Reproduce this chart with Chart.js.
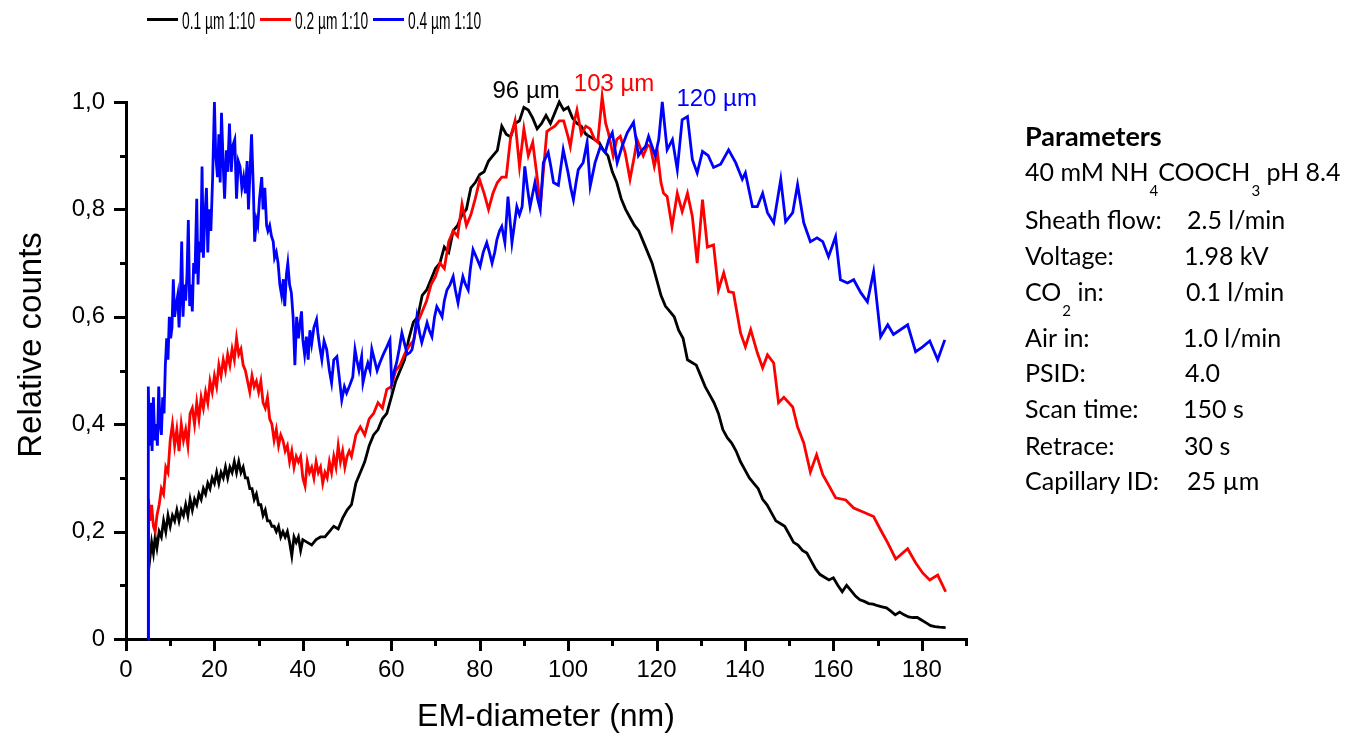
<!DOCTYPE html>
<html><head><meta charset="utf-8">
<script src="https://cdn.jsdelivr.net/npm/chart.js@4.4.1/dist/chart.umd.min.js"></script>
<style>html,body{margin:0;padding:0;background:#fff;overflow:hidden}#wrap{position:relative;width:1346px;height:733px}</style>
</head><body><div id="wrap"><canvas id="c" width="1346" height="733"></canvas></div>
<script>
// ---------- data ----------
const seriesNames = ['0.1 µm 1:10', '0.2 µm 1:10', '0.4 µm 1:10'];
const seriesColors = ['#000000', '#ff0000', '#0000ff'];

const blackX = [5.0,5.1,5.4,5.8,6.2,6.6,7.0,7.5,8.0,8.5,9.0,9.5,10.0,10.5,11.0,11.5,12.0,12.5,13.0,13.5,14.0,14.5,15.0,15.5,16.0,16.5,17.0,17.5,18.0,18.5,19.0,19.5,20.0,20.5,21.0,21.5,22.0,22.5,23.0,23.5,24.0,24.5,25.0,25.5,26.0,26.5,27.0,27.5,28.0,28.5,29.0,29.5,30.0,30.5,31.0,31.5,32.0,32.5,33.0,33.5,34.0,34.5,35.0,35.5,36.0,36.5,37.0,37.5,38.0,38.5,39.0,39.5,40.0,41,42,43,44,45,46,47,48,49,50,51,52,53,54,55,56,57,58,59,60,61,62,63,64,65,66,67,68,69,70,71,72,73,74,75,76,77,78,79,80,81,82,83,84,85,86,87,88,89,90,91,92,93,94,95,96,97,98,99,100,101,102,103,104,105,106,107,108,109,110,111,112,113,114,115,116,117,118,119,120,121,122,123,124,125,126,127,128,129,130,131,132,133,134,135,136,137,138,139,140,141,142,143,144,145,146,147,148,149,150,151,152,153,154,155,156,157,158,159,160,161,162,163,164,165,166,167,168,169,170,171,172,173,174,175,176,177,178,179,180,181,182,183,184,185.4];
const blackY = [0,0.17,0.15,0.18,0.16,0.19,0.17,0.2,0.19,0.22,0.2,0.23,0.21,0.23,0.22,0.24,0.22,0.24,0.23,0.25,0.23,0.26,0.24,0.26,0.25,0.27,0.26,0.28,0.27,0.29,0.28,0.30,0.29,0.31,0.29,0.31,0.30,0.32,0.30,0.32,0.31,0.33,0.31,0.33,0.31,0.32,0.30,0.30,0.28,0.28,0.26,0.27,0.25,0.25,0.23,0.24,0.22,0.22,0.21,0.21,0.20,0.21,0.19,0.2,0.19,0.2,0.18,0.155,0.19,0.18,0.19,0.165,0.185,0.18,0.175,0.185,0.19,0.19,0.2,0.21,0.205,0.225,0.24,0.25,0.29,0.31,0.33,0.36,0.38,0.39,0.41,0.42,0.45,0.48,0.5,0.52,0.56,0.59,0.6,0.64,0.65,0.67,0.69,0.7,0.73,0.72,0.76,0.77,0.79,0.8,0.84,0.85,0.865,0.87,0.89,0.9,0.91,0.955,0.94,0.935,0.96,0.965,0.99,0.985,0.97,0.95,0.96,0.975,0.96,0.98,1.0,0.985,0.99,0.97,0.96,0.955,0.94,0.935,0.93,0.925,0.91,0.9,0.87,0.85,0.82,0.8,0.785,0.77,0.76,0.74,0.72,0.7,0.67,0.64,0.62,0.61,0.6,0.575,0.56,0.52,0.515,0.51,0.49,0.47,0.455,0.44,0.42,0.39,0.375,0.365,0.35,0.33,0.315,0.3,0.29,0.28,0.26,0.25,0.235,0.22,0.215,0.21,0.195,0.18,0.175,0.165,0.16,0.145,0.13,0.12,0.115,0.11,0.114,0.1,0.088,0.1,0.09,0.08,0.073,0.07,0.066,0.065,0.062,0.06,0.058,0.052,0.045,0.05,0.045,0.041,0.04,0.04,0.035,0.03,0.025,0.023,0.022,0.021];

const redX = [5.0,5.1,5.4,5.8,6.2,6.6,7.0,7.5,8.0,8.5,9.0,9.5,10.0,10.5,11.0,11.5,12.0,12.5,13.0,13.5,14.0,14.5,15.0,15.5,16.0,16.5,17.0,17.5,18.0,18.5,19.0,19.5,20.0,20.5,21.0,21.5,22.0,22.5,23.0,23.5,24.0,24.5,25.0,25.5,26.0,26.5,27.0,27.5,28.0,28.5,29.0,29.5,30.0,30.5,31.0,31.5,32.0,32.5,33.0,33.5,34.0,34.5,35.0,35.5,36.0,36.5,37.0,37.5,38.0,38.5,39.0,39.5,40.0,40.5,41,41.5,42,42.5,43,43.5,44,44.5,45,45.5,46,46.5,47,47.5,48,48.5,49,49.5,50,50.5,51,52,53,54,55,56,57,58,59,60,61,62,63,64,65,66,67,68,69,70,71,72,73,74,75,76,77,78,79,80,81,82,83,84,85,86,87,88,89,90,91,92,93,93.7,94.5,95.2,96,97,98,99,100,100.5,101.3,102,103,104,105,106,106.7,107.7,108.5,109.1,110.2,111,111.8,112.9,114,115,115.6,117,118,118.6,119.5,120.2,121,121.6,122.4,123.5,124.7,125.8,127,128.1,129.2,130.4,131.5,132.9,134,135.2,136.3,137.4,139,140.1,141.3,142.8,144,145.1,146.5,147.6,148.8,150.8,151.9,153.3,154.8,156.2,157.6,158.9,160.5,162.8,164.6,166.6,169.1,170.7,172.3,174.1,176.8,178.6,180.2,181.8,183.6,185.4];
const redY = [0,0.26,0.22,0.25,0.21,0.20,0.23,0.25,0.28,0.27,0.32,0.31,0.37,0.40,0.36,0.39,0.35,0.40,0.37,0.39,0.36,0.42,0.43,0.40,0.44,0.41,0.45,0.43,0.46,0.44,0.48,0.46,0.49,0.47,0.51,0.49,0.52,0.50,0.53,0.51,0.54,0.52,0.56,0.53,0.54,0.51,0.5,0.48,0.46,0.49,0.47,0.48,0.46,0.48,0.44,0.43,0.45,0.41,0.4,0.37,0.39,0.36,0.38,0.37,0.35,0.36,0.33,0.35,0.32,0.34,0.33,0.34,0.3,0.285,0.33,0.31,0.32,0.3,0.33,0.31,0.32,0.29,0.31,0.30,0.33,0.31,0.34,0.32,0.36,0.33,0.35,0.32,0.34,0.35,0.34,0.38,0.395,0.38,0.41,0.42,0.44,0.43,0.465,0.47,0.5,0.51,0.53,0.545,0.555,0.59,0.61,0.63,0.66,0.675,0.7,0.69,0.74,0.76,0.75,0.81,0.77,0.79,0.82,0.855,0.83,0.8,0.83,0.85,0.86,0.86,0.935,0.965,0.88,0.95,0.9,0.925,0.86,0.805,0.88,0.945,0.95,0.955,0.965,0.965,0.935,0.917,0.96,0.985,0.94,0.955,0.95,0.93,0.925,1.01,0.96,0.943,0.9,0.93,0.936,0.906,0.856,0.9,0.93,0.9,0.92,0.917,0.88,0.906,0.85,0.83,0.824,0.768,0.83,0.796,0.83,0.787,0.70,0.818,0.73,0.734,0.65,0.682,0.647,0.645,0.57,0.544,0.576,0.533,0.505,0.529,0.514,0.44,0.45,0.432,0.395,0.365,0.311,0.343,0.306,0.287,0.263,0.259,0.244,0.237,0.228,0.203,0.179,0.149,0.168,0.142,0.123,0.11,0.119,0.088];

const blueX = [5.0,5.05,5.3,5.6,5.9,6.2,6.5,6.8,7.1,7.4,7.7,8.0,8.3,8.6,8.9,9.2,9.5,9.8,10.1,10.4,10.7,11.0,11.3,11.7,12.0,12.3,12.6,12.9,13.2,13.5,13.8,14.1,14.4,14.7,15.0,15.3,15.6,16.0,16.3,16.6,16.9,17.2,17.5,17.8,18.2,18.5,18.8,19.2,19.6,20.0,20.3,20.7,21.0,21.3,21.6,22.0,22.3,22.7,23.0,23.4,23.8,24.2,24.6,25.0,25.4,25.8,26.2,26.6,27.0,27.4,27.7,28.0,28.4,28.8,29.1,29.5,29.8,30.2,30.7,31.0,31.4,31.8,32.1,32.5,32.9,33.3,33.6,34.0,34.4,34.8,35.2,35.6,35.9,36.3,36.6,37.0,37.4,37.8,38.2,38.6,39.0,39.4,39.7,40.0,40.4,40.8,41.2,41.6,42,42.5,43.1,43.4,43.8,44.3,44.8,45.4,46,46.5,47,47.7,48.2,48.8,49.4,49.9,50.5,51.3,51.8,52.2,52.7,53.3,53.6,54.2,54.7,55.2,55.6,56.2,56.8,57.4,58.2,59,59.7,60.1,60.7,61.2,61.8,62.4,63,63.6,64.2,64.7,65.2,65.8,66.4,66.9,67.5,68.1,68.6,69.2,69.8,70.3,70.9,71.5,72,72.6,73.3,74,74.5,75.1,75.6,76.2,76.8,77.4,77.9,78.5,79.3,80.1,80.8,81.6,82.2,82.8,83.4,83.9,84.5,85,85.7,86.4,87.3,88.4,89,89.6,90.2,90.8,91.4,92,92.5,93.1,93.7,94.4,95.5,96.1,96.7,97.8,98.9,100,100.6,101.2,101.8,102.3,103.4,104.3,105,106.1,107.3,108.4,109.2,110,111.1,112.2,113.4,114.8,115.9,116.7,117.5,118.2,119.7,120.5,121.3,122.4,123.6,124.7,125.8,127,128.1,129.2,130.4,131.7,132.9,134.5,136.3,137.9,139.4,140.1,141.7,142.8,144,145.1,146.5,148.1,149.2,150.8,151.9,153.3,154.8,156.3,157.6,158.9,160.5,161.6,163.2,164.6,166.2,167.7,169.1,170.7,172.3,173.6,176.8,178.6,180.2,181.8,183.6,185.2];
const blueY = [0,0.47,0.36,0.44,0.35,0.45,0.37,0.40,0.36,0.47,0.40,0.38,0.45,0.42,0.51,0.56,0.52,0.60,0.56,0.58,0.67,0.6,0.62,0.64,0.58,0.64,0.74,0.60,0.66,0.63,0.68,0.78,0.62,0.66,0.61,0.7,0.68,0.82,0.66,0.74,0.72,0.88,0.71,0.78,0.84,0.72,0.80,0.76,0.86,1.0,0.9,0.86,0.94,0.85,0.98,0.88,0.82,0.91,0.87,0.96,0.87,0.92,0.93,0.82,0.89,0.88,0.84,0.86,0.83,0.89,0.80,0.86,0.94,0.84,0.74,0.78,0.77,0.82,0.86,0.80,0.84,0.77,0.76,0.77,0.75,0.74,0.71,0.72,0.70,0.66,0.64,0.67,0.62,0.68,0.70,0.66,0.645,0.6,0.51,0.60,0.56,0.59,0.61,0.557,0.53,0.563,0.52,0.575,0.55,0.58,0.595,0.57,0.545,0.52,0.555,0.539,0.5,0.477,0.52,0.526,0.49,0.445,0.47,0.458,0.47,0.488,0.539,0.52,0.5,0.526,0.477,0.5,0.514,0.5,0.54,0.52,0.5,0.514,0.53,0.544,0.557,0.477,0.5,0.514,0.54,0.57,0.55,0.53,0.533,0.539,0.56,0.60,0.57,0.552,0.57,0.589,0.575,0.563,0.6,0.619,0.61,0.60,0.63,0.65,0.66,0.675,0.65,0.626,0.65,0.675,0.66,0.65,0.69,0.725,0.71,0.694,0.72,0.738,0.72,0.70,0.72,0.744,0.76,0.768,0.738,0.824,0.738,0.805,0.79,0.805,0.88,0.84,0.805,0.83,0.85,0.82,0.80,0.887,0.906,0.88,0.85,0.845,0.911,0.868,0.84,0.818,0.85,0.874,0.887,0.925,0.843,0.887,0.917,0.906,0.93,0.943,0.887,0.917,0.943,0.962,0.90,0.91,0.917,0.936,0.90,0.93,1.0,0.911,0.93,0.874,0.967,0.973,0.893,0.868,0.908,0.90,0.878,0.884,0.911,0.887,0.856,0.868,0.805,0.805,0.83,0.794,0.775,0.856,0.777,0.794,0.846,0.775,0.74,0.747,0.74,0.712,0.749,0.669,0.663,0.669,0.645,0.628,0.684,0.563,0.585,0.567,0.585,0.535,0.544,0.555,0.52,0.557];

const peakLabels = ['96 µm', '103 µm', '120 µm'];
const peakLabelX = [90.5, 110.4, 133.6];
const peakLabelY = [1.008, 1.02, 0.992];

const paramLabels = ['Parameters', '40 mM NH_{4}COOCH_{3} pH 8.4', 'Sheath flow:', 'Voltage:', 'CO_{2} in:', 'Air in:', 'PSID:', 'Scan time:', 'Retrace:', 'Capillary ID:'];
const paramValues = ['', '', '2.5 l/min', '1.98 kV', '0.1 l/min', '1.0 l/min', '4.0', '150 s', '30 s', '25 µm'];

const xTitle = 'EM-diameter (nm)';
const yTitle = 'Relative counts';

// ---------- build ----------
function pts(xs, ys) { return xs.map((x, i) => ({x: x, y: ys[i]})); }
const allX = [blackX, redX, blueX];
const allY = [blackY, redY, blueY];
const datasets = seriesNames.map((n, i) => ({
  label: n, data: pts(allX[i], allY[i]), borderColor: seriesColors[i], backgroundColor: seriesColors[i],
  borderWidth: 2.8, pointRadius: 0, tension: 0, fill: false, clip: false, order: 2 - i
}));

const FONT = "'Liberation Sans', Arial, sans-serif";
const PFONT = "Lato, 'Noto Sans', sans-serif";
const PSIZE = 25;

function drawRich(ctx, str, x, y, size, bold) {
  const parts = str.split(/(_\{[^}]*\})/).filter(s => s.length);
  let cx = x;
  parts.forEach(p => {
    if (p.startsWith('_{')) {
      const t = p.slice(2, -1);
      ctx.font = '15px ' + PFONT;
      ctx.fillText(t, cx + 1, y + 15);
      cx += ctx.measureText(t).width + 1;
    } else {
      ctx.font = (bold ? 'bold ' : '') + size + 'px ' + PFONT;
      ctx.fillText(p, cx, y);
      cx += ctx.measureText(p).width;
    }
  });
}

const decorPlugin = {
  id: 'decor',
  afterDraw(chart) {
    const ctx = chart.ctx, xs = chart.scales.x, ys = chart.scales.y;
    ctx.save();
    // tick marks (outward, major + minor)
    ctx.strokeStyle = '#000'; ctx.lineWidth = 3; ctx.lineCap = 'butt';
    xs.ticks.forEach(t => {
      const px = Math.round(xs.getPixelForValue(t.value)) + 0.5;
      const major = Math.round(t.value) % 20 === 0;
      ctx.beginPath(); ctx.moveTo(px, xs.top - 1); ctx.lineTo(px, xs.top + (major ? 12 : 7)); ctx.stroke();
    });
    ys.ticks.forEach(t => {
      const py = Math.round(ys.getPixelForValue(t.value)) + 0.5;
      const major = Math.round(t.value * 10) % 2 === 0;
      ctx.beginPath(); ctx.moveTo(ys.right + 1, py); ctx.lineTo(ys.right - (major ? 12 : 6), py); ctx.stroke();
    });
    // y title
    ctx.save();
    ctx.translate(41, 345); ctx.rotate(-Math.PI / 2);
    ctx.font = '33px ' + FONT; ctx.fillStyle = '#000'; ctx.textAlign = 'center'; ctx.textBaseline = 'alphabetic';
    ctx.fillText(yTitle, 0, 0);
    ctx.restore();
    // peak labels
    ctx.font = '24px ' + FONT; ctx.textAlign = 'center'; ctx.textBaseline = 'alphabetic';
    peakLabels.forEach((s, i) => {
      ctx.fillStyle = seriesColors[i];
      ctx.fillText(s, xs.getPixelForValue(peakLabelX[i]), ys.getPixelForValue(peakLabelY[i]));
    });
    // legend
    ctx.textAlign = 'left';
    seriesNames.forEach((n, i) => {
      const x0 = 147 + i * 113;
      ctx.strokeStyle = seriesColors[i]; ctx.lineWidth = 3;
      ctx.beginPath(); ctx.moveTo(x0, 19.5); ctx.lineTo(x0 + 31, 19.5); ctx.stroke();
      ctx.save();
      ctx.translate(x0 + 35, 29); ctx.scale(0.6, 1);
      ctx.font = '23px ' + FONT; ctx.fillStyle = '#000';
      ctx.fillText(n, 0, 0);
      ctx.restore();
    });
    // parameter panel
    const base = [146, 181, 229, 265, 301, 347, 382, 418, 455, 490];
    const valX = [0, 0, 1187, 1184, 1186, 1183, 1185, 1183, 1184, 1187];
    ctx.fillStyle = '#000';
    paramLabels.forEach((s, i) => {
      drawRich(ctx, s, 1025, base[i], i === 0 ? PSIZE + 2 : PSIZE, i === 0);
      if (paramValues[i]) drawRich(ctx, paramValues[i], valX[i], base[i], PSIZE, false);
    });
    ctx.restore();
  }
};

new Chart(document.getElementById('c'), {
  type: 'line',
  data: { datasets: datasets },
  options: {
    responsive: false, animation: false, devicePixelRatio: 1,
    layout: { padding: { top: 102, right: 380, bottom: 0, left: 0 } },
    plugins: { legend: { display: false }, tooltip: { enabled: false } },
    scales: {
      x: {
        type: 'linear', min: 0, max: 190,
        afterFit: s => { s.height = 94; },
        grid: { display: false, drawTicks: false, tickLength: 0 },
        border: { display: true, color: '#000', width: 3 },
        ticks: { stepSize: 10, autoSkip: false, maxRotation: 0, padding: 17, color: '#000',
          font: { family: FONT, size: 24 },
          callback: v => (Math.round(v) % 20 === 0 ? String(Math.round(v)) : '') },
        title: { display: true, text: xTitle, color: '#000', font: { family: FONT, size: 32, lineHeight: 1 }, padding: { top: 0, bottom: 0 } }
      },
      y: {
        type: 'linear', min: 0, max: 1,
        afterFit: s => { s.width = 126; },
        grid: { display: false, drawTicks: false, tickLength: 0 },
        border: { display: true, color: '#000', width: 3 },
        ticks: { stepSize: 0.1, autoSkip: false, padding: 21, color: '#000',
          font: { family: FONT, size: 24 },
          callback: v => { const k = Math.round(v * 10); if (k % 2) return ''; return k === 0 ? '0' : (k / 10).toFixed(1).replace('.', ','); } }
      }
    }
  },
  plugins: [decorPlugin]
});
</script></body></html>
